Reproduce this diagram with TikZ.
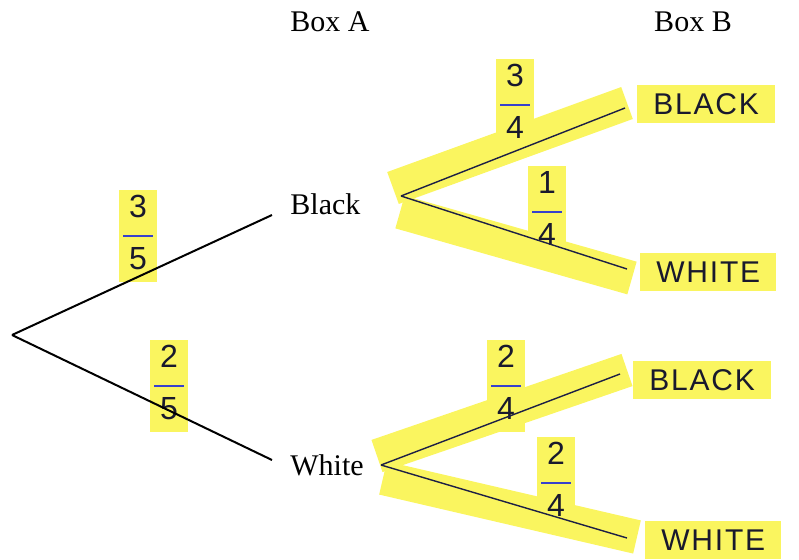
\documentclass[tikz,border=0pt]{standalone}
\usepackage{fontspec}
\setmainfont{Liberation Serif}
\newfontfamily\handfont[LetterSpace=6]{Liberation Sans}
\usetikzlibrary{positioning,backgrounds}
\definecolor{hlyellow}{RGB}{250,245,95}
\definecolor{ink}{RGB}{25,25,45}
\definecolor{inkblue}{RGB}{55,65,205}
\newcommand{\hfrac}[2]{\begin{tabular}{@{}c@{}}#1\\[-4pt]\textcolor{inkblue}{\rule[4pt]{15pt}{1.1pt}}\\[-6pt]#2\end{tabular}}

\begin{document}
\begin{tikzpicture}[x=0.5pt, y=-0.5pt,
  lbl/.style={font=\fontsize{15}{18}\selectfont, inner sep=1pt},
  hand/.style={font=\handfont\fontsize{15}{18}\selectfont, text=ink, fill=hlyellow, inner xsep=8pt, minimum height=19pt},
  fracbox/.style={font=\handfont\fontsize{16}{18}\selectfont, text=ink, fill=hlyellow, inner sep=1pt, minimum width=19pt, minimum height=42pt},
  branch/.style={line width=1pt},
  inkline/.style={line width=0.7pt, draw=ink!85!inkblue},
  hl/.style={line width=17pt, draw=hlyellow}]
  \useasboundingbox (0,0) rectangle (799,559);

  % Nodes
  \coordinate (root) at (12,335);
  \node [lbl] (boxA) at (330,22) {Box A};
  \node [lbl] (boxB) at (693,22) {Box B};
  \node [lbl, anchor=west] (blackA) at (288,204) {Black};
  \node [lbl, anchor=west] (whiteA) at (288,465) {White};
  \coordinate (forkB) at (401,196);
  \coordinate (forkW) at (381,465);
  \node [hand, anchor=west] (blackBB) at (637,104) {BLACK};
  \node [hand, anchor=west] (whiteBB) at (640,272) {WHITE};
  \node [hand, anchor=west] (blackBW) at (633,380) {BLACK};
  \node [hand, anchor=west] (whiteBW) at (645,540) {WHITE};

  % Fractions
  \node [fracbox] (pb) at (138,236) {\hfrac{3}{5}};
  \node [fracbox] (pw) at (169,386) {\hfrac{2}{5}};
  \node [fracbox] (pbb) at (515,105) {\hfrac{3}{4}};
  \node [fracbox] (pbw) at (547,212) {\hfrac{1}{4}};
  \node [fracbox] (pwb) at (506,386) {\hfrac{2}{4}};
  \node [fracbox] (pww) at (556,483) {\hfrac{2}{4}};

  % Highlighter
  \begin{scope}[on background layer]
    \draw [hl] (393,188) -- (627,103);
    \draw [hl] (400,212) -- (632,278);
    \draw [hl] (377,456) -- (627,370);
    \draw [hl] (383,478) -- (637,537);
  \end{scope}

  % Branches
  \draw [branch] (root) -- ([shift={(-16,11)}]blackA.west);
  \draw [branch] (root) -- ([shift={(-16,-5)}]whiteA.west);
  \draw [inkline] (forkB) -- ([shift={(-12,4)}]blackBB.west);
  \draw [inkline] (forkB) -- ([shift={(-13,-3)}]whiteBB.west);
  \draw [inkline] (forkW) -- ([shift={(-13,-6)}]blackBW.west);
  \draw [inkline] (forkW) -- ([shift={(-18,-2)}]whiteBW.west);
\end{tikzpicture}
\end{document}
